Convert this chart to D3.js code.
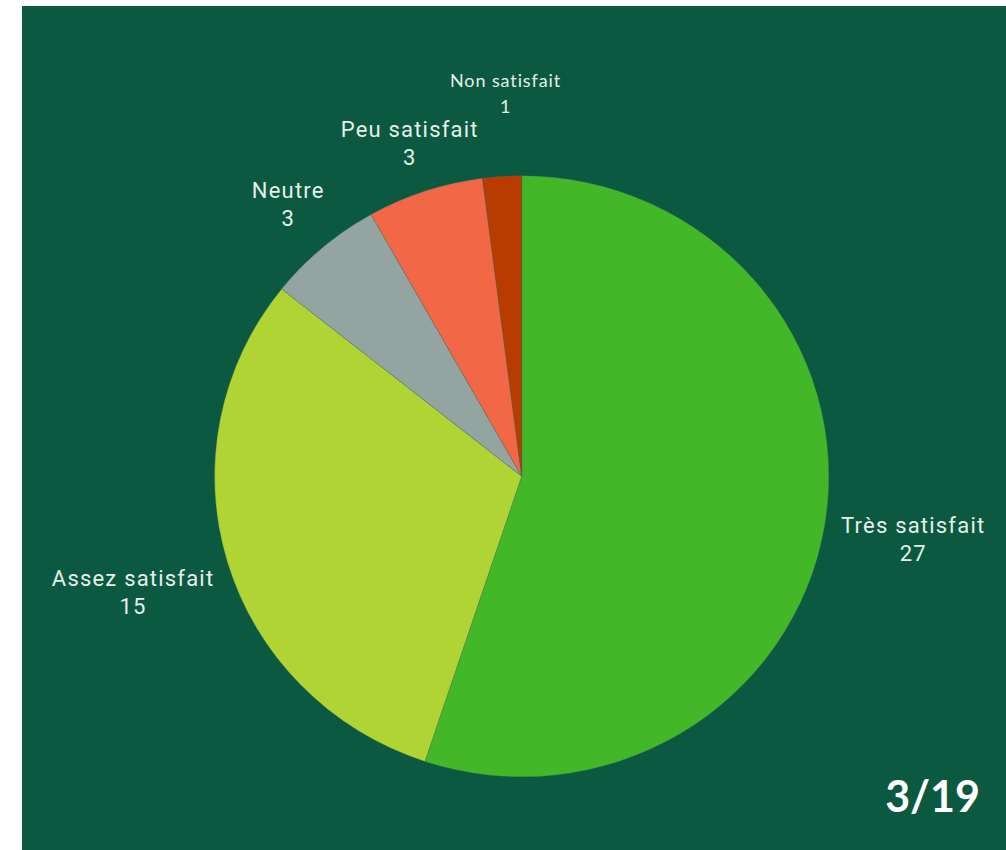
<!DOCTYPE html>
<html>
<head>
<meta charset="utf-8">
<script src="https://cdn.jsdelivr.net/npm/d3@7/dist/d3.min.js"></script>
<style>
  html, body { margin: 0; padding: 0; background: #ffffff; }
  svg { display: block; }
  .lbl { font-family: Roboto, "Noto Sans", sans-serif; }
  .lbl-small { font-family: Lato, "Liberation Sans", sans-serif; }
  .page { font-family: Lato, "Open Sans", sans-serif; font-weight: 700; }
</style>
</head>
<body>
<svg id="chart" width="1006" height="850"></svg>
<script>
// Survey answers: satisfaction levels and number of respondents
const categories = ["Très satisfait", "Assez satisfait", "Neutre", "Peu satisfait", "Non satisfait"];
const counts = [27, 15, 3, 3, 1];
const sliceColors = ["#42b829", "#afd433", "#94a5a1", "#f26746", "#b83c00"];
const pageLabel = "3/19";

// Label placement: distance of each label's centre from the pie centre,
// plus a small sideways shift for the crowded labels at the top
const labelDistance = [396, 406, 358, 351, 384];
const labelShiftX = [0, 0, -2, -2, 8];
const labelFontSize = [22, 22, 22, 22, 18];

const svg = d3.select("#chart");
const W = 1006, H = 850;

// Slide background panel
svg.append("rect")
  .attr("x", 22).attr("y", 6)
  .attr("width", W - 22).attr("height", H - 6)
  .attr("fill", "#0a5940");

const cx = 521.7, cy = 476.3, r = 300.5, sx = 1.022;

const data = categories.map((c, i) => ({ name: c, value: counts[i], color: sliceColors[i], i }));

const pie = d3.pie().value(d => d.value).sort(null).startAngle(0).endAngle(2 * Math.PI);
const arc = d3.arc().innerRadius(0).outerRadius(r);
const arcs = pie(data);

const g = svg.append("g").attr("transform", `translate(${cx},${cy}) scale(${sx},1)`);
g.selectAll("path.slice")
  .data(arcs)
  .enter().append("path")
  .attr("class", "slice")
  .attr("d", arc)
  .attr("fill", d => d.data.color)
  .attr("stroke", "rgba(70,110,95,0.55)")
  .attr("stroke-width", 0.6);

// Data labels: category name over value, placed outside the slice
const labels = svg.append("g");
arcs.forEach(a => {
  const mid = (a.startAngle + a.endAngle) / 2;
  const dist = labelDistance[a.data.i];
  const lx = cx + Math.sin(mid) * dist + labelShiftX[a.data.i];
  const ly = cy - Math.cos(mid) * dist;
  const fs = labelFontSize[a.data.i];
  const small = a.data.i === 4;
  const ls = small ? 0.9 : 1.2;
  const t = labels.append("text")
    .attr("class", small ? "lbl-small" : "lbl")
    .attr("text-anchor", "middle")
    .attr("fill", "#e6efea")
    .attr("letter-spacing", ls)
    .attr("font-size", fs);
  const lh = small ? 26 : 28;
  t.append("tspan").attr("x", lx + ls / 2).attr("y", ly - lh / 2 + fs * 0.36).text(a.data.name);
  t.append("tspan").attr("x", lx + ls / 2).attr("y", ly + lh / 2 + fs * 0.36).text(a.data.value);
});

// Page number
svg.append("text")
  .attr("class", "page")
  .attr("x", 980).attr("y", 812)
  .attr("text-anchor", "end")
  .attr("fill", "#ffffff")
  .attr("font-size", 43)
  .text(pageLabel);
</script>
</body>
</html>
